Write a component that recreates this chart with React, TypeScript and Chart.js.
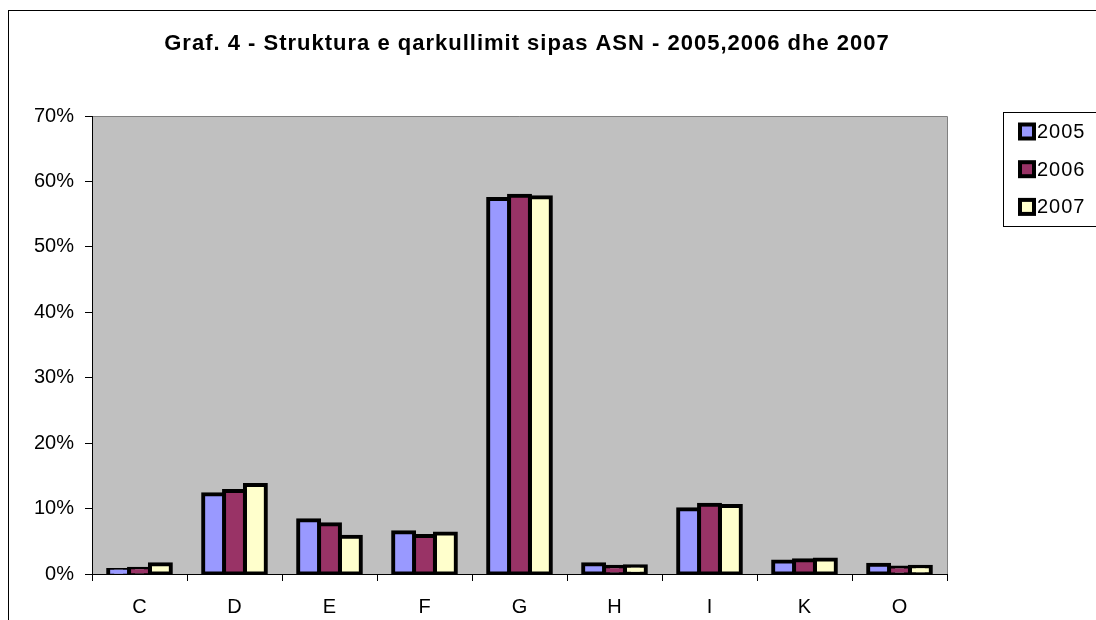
import React, { useEffect, useRef } from "react";
import { Chart, registerables } from "chart.js";

Chart.register(...registerables);

const chartTitle = "Graf. 4 - Struktura e qarkullimit sipas ASN - 2005,2006 dhe 2007";
const categories = ["C", "D", "E", "F", "G", "H", "I", "K", "O"];
const seriesLabels = ["2005", "2006", "2007"];
const values2005 = [0.6, 12.2, 8.2, 6.4, 57.3, 1.5, 9.9, 1.9, 1.4];
const values2006 = [0.8, 12.7, 7.6, 5.8, 57.8, 1.1, 10.6, 2.1, 1.0];
const values2007 = [1.5, 13.6, 5.7, 6.2, 57.6, 1.2, 10.4, 2.2, 1.1];
const seriesColors = ["#9999FF", "#993366", "#FFFFCC"];
const yMin = 0;
const yMax = 70;
const yStep = 10;

const FONT = "'Liberation Sans', Arial, sans-serif";

const plotBgPlugin = {
  id: "plotBg",
  beforeDraw(chart: any) {
    const { ctx, chartArea } = chart;
    const { left, top, right, bottom } = chartArea;
    ctx.save();
    ctx.fillStyle = "#C0C0C0";
    ctx.fillRect(left, top, right - left, bottom - top);
    ctx.strokeStyle = "#808080";
    ctx.lineWidth = 1;
    ctx.beginPath();
    ctx.moveTo(left, top + 0.5);
    ctx.lineTo(right + 0.5, top + 0.5);
    ctx.lineTo(right + 0.5, bottom);
    ctx.stroke();
    ctx.restore();
  },
};

const titlePlugin = {
  id: "customTitle",
  afterDraw(chart: any) {
    const { ctx } = chart;
    ctx.save();
    ctx.font = `bold 22px ${FONT}`;
    (ctx as any).letterSpacing = "1px";
    ctx.fillStyle = "#000000";
    ctx.textAlign = "center";
    ctx.textBaseline = "alphabetic";
    ctx.fillText(chartTitle, 518, 38.5);
    ctx.restore();
  },
};

const customLegendPlugin = {
  id: "customLegend",
  afterDraw(chart: any) {
    const { ctx } = chart;
    const boxLeft = 994;
    const boxTop = 101;
    const boxBottom = 215;
    ctx.save();
    ctx.fillStyle = "#FFFFFF";
    ctx.fillRect(boxLeft, boxTop, 200, boxBottom - boxTop);
    ctx.strokeStyle = "#000000";
    ctx.lineWidth = 1;
    ctx.strokeRect(boxLeft + 0.5, boxTop + 0.5, 200, boxBottom - boxTop);
    ctx.font = `20px ${FONT}`;
    (ctx as any).letterSpacing = "1px";
    ctx.textBaseline = "middle";
    ctx.textAlign = "left";
    chart.data.datasets.forEach((ds: any, i: number) => {
      const cy = 120.5 + i * 37.7;
      const mx = 1009;
      const size = 18;
      ctx.fillStyle = "#000000";
      ctx.fillRect(mx, cy - size / 2, size, size);
      ctx.fillStyle = ds.backgroundColor;
      ctx.fillRect(mx + 4, cy - size / 2 + 4, size - 8, size - 8);
      ctx.fillStyle = "#000000";
      ctx.fillText(ds.label, mx + size + 1, cy + 1);
    });
    ctx.restore();
  },
};

export default function App() {
  const canvasRef = useRef<HTMLCanvasElement | null>(null);

  useEffect(() => {
    if (!canvasRef.current) return;
    const seriesValues = [values2005, values2006, values2007];
    const chart = new Chart(canvasRef.current, {
      type: "bar",
      data: {
        labels: categories,
        datasets: seriesLabels.map((label, i) => ({
          label,
          data: seriesValues[i],
          backgroundColor: seriesColors[i],
          borderColor: "#000000",
          borderWidth: 4,
          borderSkipped: false,
          inflateAmount: 2,
          categoryPercentage: 0.66,
          barPercentage: 1.0,
        })),
      },
      options: {
        responsive: false,
        animation: false,
        devicePixelRatio: 1,
        layout: { padding: { left: 0, right: 149, top: 105, bottom: 0 } },
        plugins: {
          legend: { display: false },
          tooltip: { enabled: false },
          title: { display: false },
        },
        scales: {
          x: {
            grid: {
              display: true,
              drawOnChartArea: false,
              drawTicks: true,
              tickLength: 7,
              color: "#000000",
              offset: true,
            },
            border: { display: true, color: "#000000", width: 1 },
            ticks: {
              color: "#000000",
              font: { family: FONT, size: 20 },
              padding: 14,
              maxRotation: 0,
              autoSkip: false,
            },
            afterFit(scale: any) {
              scale.height = 46;
            },
          },
          y: {
            min: yMin,
            max: yMax,
            grid: {
              display: true,
              drawOnChartArea: false,
              drawTicks: true,
              tickLength: 7,
              color: "#000000",
            },
            border: { display: true, color: "#000000", width: 1 },
            ticks: {
              stepSize: yStep,
              color: "#000000",
              font: { family: FONT, size: 20 },
              padding: 11,
              callback: (v: any) => `${v}%`,
            },
            afterFit(scale: any) {
              scale.width = 83;
            },
          },
        },
      },
      plugins: [plotBgPlugin, titlePlugin, customLegendPlugin],
    });
    return () => chart.destroy();
  }, []);

  return (
    <div
      style={{
        position: "fixed",
        left: 8,
        top: 10,
        width: 1088,
        height: 610,
        borderLeft: "1px solid #000",
        borderTop: "1px solid #000",
        background: "#fff",
        overflow: "hidden",
      }}
    >
      <canvas ref={canvasRef} width={1087} height={609} style={{ display: "block" }} />
    </div>
  );
}
